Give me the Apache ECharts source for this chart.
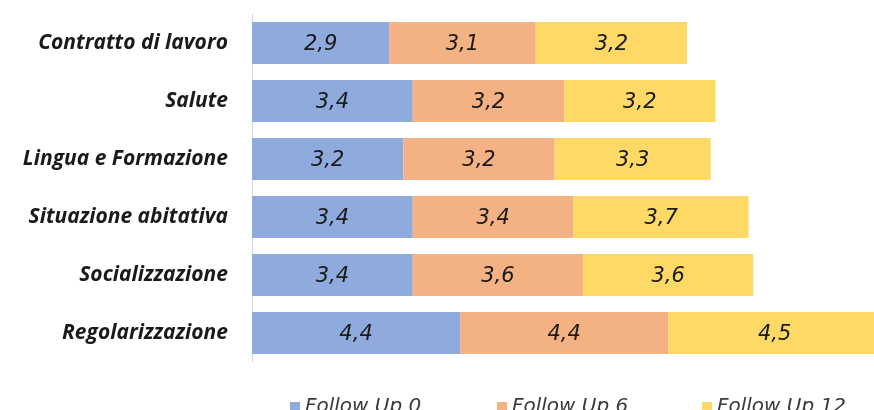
<!DOCTYPE html>
<html><head><meta charset="utf-8">
<script src="https://cdn.jsdelivr.net/npm/echarts@6/dist/echarts.min.js"></script>
<style>html,body{margin:0;padding:0;background:#fff}#c{width:874px;height:410px}</style>
</head><body><div id="c"></div>
<script>
const categories = ["Contratto di lavoro","Salute","Lingua e Formazione","Situazione abitativa","Socializzazione","Regolarizzazione"];
const seriesNames = ["Follow Up 0","Follow Up 6","Follow Up 12"];
const followUp0 = [2.9,3.4,3.2,3.4,3.4,4.4];
const followUp6 = [3.1,3.2,3.2,3.4,3.6,4.4];
const followUp12 = [3.2,3.2,3.3,3.7,3.6,4.5];
const colors = ["#8FAADC","#F4B183","#FFD966"];

const chart = echarts.init(document.getElementById('c'), null, {renderer:'canvas'});
const values = [followUp0, followUp6, followUp12];
const legendLefts = [285, 492, 697];
chart.setOption({
  animation:false,
  grid:{left:252,width:629,top:14,bottom:48,containLabel:false,outerBoundsMode:'none'},
  xAxis:{type:'value',min:0,max:13.3,show:false},
  yAxis:{type:'category',data:categories,inverse:true,
    axisLine:{show:true,lineStyle:{color:'#d9d9d9',width:1}},
    axisTick:{show:false},
    axisLabel:{margin:24,color:'#1a1a1a',fontFamily:'Open Sans',fontStyle:'italic',fontWeight:'bold',fontSize:21}},
  legend: seriesNames.map((n,i)=>({left:legendLefts[i],top:392,itemWidth:10,itemHeight:10,icon:'rect',
    data:[n],
    textStyle:{fontFamily:'DejaVu Sans',fontStyle:'italic',fontSize:20,color:'#3a3a3a'}})),
  series: seriesNames.map((n,i)=>({
    name:n,type:'bar',stack:'tot',data:values[i],barWidth:42,
    itemStyle:{color:colors[i]},
    label:{show:true,position:'inside',offset:[0,2],color:'#1a1a1a',fontFamily:'DejaVu Sans',fontStyle:'italic',fontSize:21,
      formatter:p=>String(p.value).replace('.',',')}
  }))
});
</script></body></html>
